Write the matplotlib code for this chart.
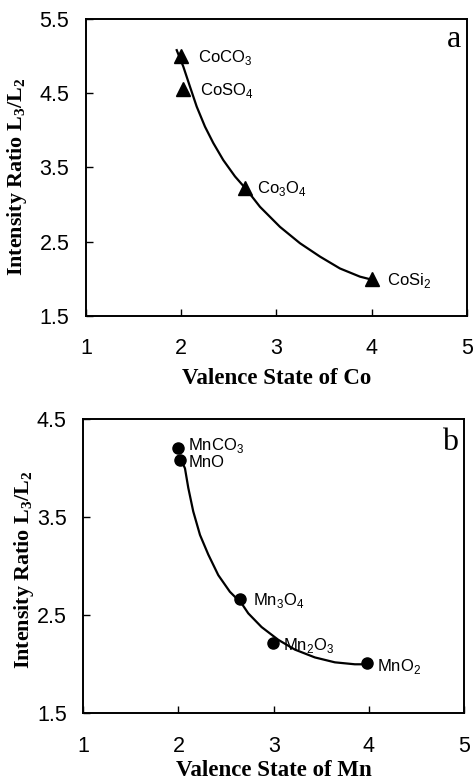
import numpy as np
import matplotlib
matplotlib.use("Agg")
import matplotlib.pyplot as plt

# ---------------- data ----------------
# panel a : Co compounds
co_names = ["CoCO$_\\mathdefault{3}$", "CoSO$_\\mathdefault{4}$",
            "Co$_\\mathdefault{3}$O$_\\mathdefault{4}$", "CoSi$_\\mathdefault{2}$"]
co_valence = [2.0, 2.02, 2.67, 4.0]
co_ratio = [5.0, 4.56, 3.23, 2.0]
# hand-drawn fit curve, traced point by point
co_fit_x = [1.953, 2.022, 2.092, 2.163, 2.25, 2.337, 2.442, 2.565, 2.688,
            2.828, 3.038, 3.248, 3.458, 3.668, 3.878, 4.0]
co_fit_y = [5.08, 4.86, 4.59, 4.32, 4.05, 3.83, 3.60, 3.38, 3.20,
            2.97, 2.70, 2.48, 2.30, 2.14, 2.03, 1.99]

# panel b : Mn compounds
mn_names = ["MnCO$_\\mathdefault{3}$", "MnO",
            "Mn$_\\mathdefault{3}$O$_\\mathdefault{4}$", "Mn$_\\mathdefault{2}$O$_\\mathdefault{3}$",
            "MnO$_\\mathdefault{2}$"]
mn_valence = [2.0, 2.016, 2.65, 2.995, 3.98]
mn_ratio = [4.21, 4.085, 2.67, 2.22, 2.01]
mn_fit_x = [2.03, 2.068, 2.103, 2.155, 2.226, 2.313, 2.418, 2.54, 2.664,
            2.733, 2.873, 3.048, 3.223, 3.433, 3.643, 3.853, 3.976]
mn_fit_y = [4.08, 4.0, 3.80, 3.56, 3.32, 3.12, 2.91, 2.74, 2.62,
            2.52, 2.38, 2.25, 2.15, 2.07, 2.02, 2.00, 2.00]

x_ticks = [1, 2, 3, 4, 5]
co_yticks = [1.5, 2.5, 3.5, 4.5, 5.5]
mn_yticks = [1.5, 2.5, 3.5, 4.5]

SANS = "Liberation Sans"
SERIF = "Liberation Serif"

fig = plt.figure(figsize=(4.73, 7.81), dpi=100)
ax1 = fig.add_axes([0.1818, 0.5954, 0.805, 0.3803])
ax2 = fig.add_axes([0.1761, 0.0867, 0.805, 0.3764])


def style_axis(axis, yticks, xlabel, letter, ylab_xy, xlab_y, letter_y):
    axis.set_xlim(1, 5)
    axis.set_ylim(yticks[0], yticks[-1])
    axis.set_xticks(x_ticks)
    axis.set_yticks(yticks)
    axis.set_xticklabels([str(t) for t in x_ticks], fontfamily=SANS, fontsize=15.5)
    axis.set_yticklabels([str(t) for t in yticks], fontfamily=SANS, fontsize=15.5)
    axis.tick_params(axis="x", direction="in", length=5, width=1, pad=16)
    axis.tick_params(axis="y", direction="in", length=5, width=1, pad=12)
    for s in axis.spines.values():
        s.set_linewidth(1.4)
    axis.set_xlabel(xlabel, fontfamily=SERIF, fontweight="bold", fontsize=16.5)
    axis.xaxis.set_label_coords(0.5, xlab_y)
    axis.set_ylabel("Intensity Ratio L$_\\mathdefault{3}$/L$_\\mathdefault{2}$",
                    fontfamily=SERIF, fontweight="bold", fontsize=15.8)
    axis.yaxis.set_label_coords(*ylab_xy)
    axis.text(0.985, letter_y, letter, transform=axis.transAxes, ha="right", va="top",
              fontfamily=SERIF, fontsize=23)


def label_points(axis, xs, ys, names, offsets):
    for x, y, name, (dx, dy) in zip(xs, ys, names, offsets):
        axis.annotate(name, (x, y), xytext=(dx, dy), textcoords="offset points",
                      ha="left", va="center", fontfamily=SANS, fontsize=12)


# panel a
ax1.plot(co_fit_x, co_fit_y, color="black", lw=1.6, zorder=2)
ax1.plot(co_valence, co_ratio, "^", color="black", ms=9.5, zorder=3)
label_points(ax1, co_valence, co_ratio, co_names,
             [(12, -1), (12, -1), (9, -1), (11, -1)])
style_axis(ax1, co_yticks, "Valence State of Co", "a",
           (-0.15, 0.47), -0.175, 0.98)

# panel b
ax2.plot(mn_fit_x, mn_fit_y, color="black", lw=1.6, zorder=2)
ax2.plot(mn_valence, mn_ratio, "o", color="black", ms=8, zorder=3)
label_points(ax2, mn_valence, mn_ratio, mn_names,
             [(7, 1.5), (6, -1.5), (9, -1), (7, -2), (7, -2)])
style_axis(ax2, mn_yticks, "Valence State of Mn", "b",
           (-0.125, 0.487), -0.16, 0.97)

fig.savefig("out.png", dpi=100)
